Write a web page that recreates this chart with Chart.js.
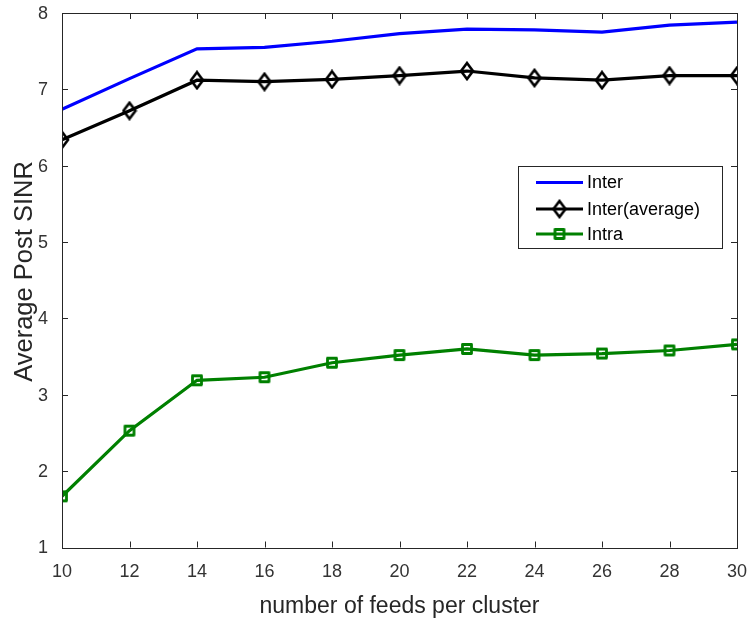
<!DOCTYPE html>
<html>
<head>
<meta charset="utf-8">
<script src="https://cdn.jsdelivr.net/npm/chart.js@4/dist/chart.umd.min.js"></script>
<style>
html,body{margin:0;padding:0;background:#fff;}
#wrap{width:754px;height:618px;position:relative;}
</style>
</head>
<body>
<div id="wrap"><canvas id="c" width="754" height="618"></canvas></div>
<script>
const feeds = [10, 12, 14, 16, 18, 20, 22, 24, 26, 28, 30];
const interValues = [6.74, 7.14, 7.53, 7.55, 7.63, 7.73, 7.79, 7.78, 7.75, 7.84, 7.88];
const interAvgValues = [6.34, 6.72, 7.12, 7.10, 7.13, 7.18, 7.24, 7.15, 7.12, 7.18, 7.18];
const intraValues = [1.67, 2.53, 3.19, 3.23, 3.42, 3.52, 3.60, 3.52, 3.54, 3.58, 3.66];
const xTicks = [10, 12, 14, 16, 18, 20, 22, 24, 26, 28, 30];
const yTicks = [1, 2, 3, 4, 5, 6, 7, 8];
const seriesNames = ['Inter', 'Inter(average)', 'Intra'];
const xTitle = 'number of feeds per cluster';
const yTitle = 'Average Post SINR';

const AXIS = '#262626';
const TICKCOL = '#333333';
const FONT = "'Liberation Sans', Arial, sans-serif";

function diamondCanvas(color) {
  const cv = document.createElement('canvas');
  cv.width = 16; cv.height = 20;
  const g = cv.getContext('2d');
  g.strokeStyle = color; g.lineWidth = 2.6;
  g.beginPath();
  g.moveTo(8, 2); g.lineTo(14, 10); g.lineTo(8, 18); g.lineTo(2, 10); g.closePath();
  g.stroke();
  return cv;
}
function squareCanvas(color) {
  const cv = document.createElement('canvas');
  cv.width = 14; cv.height = 14;
  const g = cv.getContext('2d');
  g.strokeStyle = color; g.lineWidth = 2.8; g.lineJoin = 'round';
  g.strokeRect(2.5, 2.5, 9, 9);
  return cv;
}
const diamond = diamondCanvas('#000000');
const square = squareCanvas('#008000');

function pts(vals) { return feeds.map((x, i) => ({x: x, y: vals[i]})); }

const frame = {
  id: 'frame',
  afterDatasetsDraw(chart) {
    const ctx = chart.ctx, a = chart.chartArea;
    const xs = chart.scales.x, ys = chart.scales.y;
    ctx.save();
    ctx.strokeStyle = AXIS; ctx.lineWidth = 1;
    ctx.strokeRect(Math.round(a.left) + 0.5, Math.round(a.top) + 0.5, Math.round(a.right - a.left), Math.round(a.bottom - a.top));
    ctx.beginPath();
    const L = 6;
    xTicks.forEach(v => {
      const px = Math.round(xs.getPixelForValue(v)) + 0.5;
      ctx.moveTo(px, a.bottom); ctx.lineTo(px, a.bottom - L);
      ctx.moveTo(px, a.top); ctx.lineTo(px, a.top + L);
    });
    yTicks.forEach(v => {
      const py = Math.round(ys.getPixelForValue(v)) + 0.5;
      ctx.moveTo(a.left, py); ctx.lineTo(a.left + L, py);
      ctx.moveTo(a.right, py); ctx.lineTo(a.right - L, py);
    });
    ctx.stroke();

    // axis titles
    ctx.fillStyle = AXIS;
    ctx.textAlign = 'center';
    ctx.textBaseline = 'alphabetic';
    ctx.font = '23px ' + FONT;
    ctx.fillText(xTitle, (a.left + a.right) / 2, 613);
    ctx.save();
    ctx.translate(32, 271.5);
    ctx.rotate(-Math.PI / 2);
    ctx.font = '25.5px ' + FONT;
    ctx.fillText(yTitle, 0, 0);
    ctx.restore();

    // legend
    const bx = 518.5, by = 166.5, bw = 204, bh = 82;
    ctx.fillStyle = '#fff';
    ctx.fillRect(bx, by, bw, bh);
    ctx.strokeStyle = AXIS; ctx.lineWidth = 1;
    ctx.strokeRect(bx, by, bw, bh);
    const rows = [182.5, 209, 234];
    chart.data.datasets.forEach((ds, i) => {
      const y = rows[i];
      ctx.strokeStyle = ds.borderColor; ctx.lineWidth = 3.2;
      ctx.beginPath(); ctx.moveTo(536, y); ctx.lineTo(583, y); ctx.stroke();
      if (ds.pointStyle && typeof ds.pointStyle === 'object') {
        const img = ds.pointStyle;
        ctx.drawImage(img, 559.5 - img.width / 2, y - img.height / 2);
      }
      ctx.fillStyle = '#000';
      ctx.font = '18px ' + FONT;
      ctx.textBaseline = 'middle'; ctx.textAlign = 'left';
      ctx.fillText(ds.label, 587, y + 1);
    });
    ctx.restore();
  }
};

new Chart(document.getElementById('c'), {
  type: 'line',
  data: {
    datasets: [
      { label: seriesNames[0], data: pts(interValues), borderColor: '#0000ff', borderWidth: 3.2, pointRadius: 0, pointHoverRadius: 0, tension: 0 },
      { label: seriesNames[1], data: pts(interAvgValues), borderColor: '#000000', borderWidth: 3.2, pointStyle: diamond, pointRadius: 8, tension: 0 },
      { label: seriesNames[2], data: pts(intraValues), borderColor: '#008000', borderWidth: 3.2, pointStyle: square, pointRadius: 7, tension: 0 }
    ]
  },
  options: {
    responsive: false,
    animation: false,
    events: [],
    layout: { padding: { top: 13, right: 17, left: 0, bottom: 0 } },
    plugins: { legend: { display: false }, tooltip: { enabled: false } },
    scales: {
      x: {
        type: 'linear', min: 10, max: 30,
        afterBuildTicks: s => { s.ticks = xTicks.map(v => ({value: v})); },
        afterFit: s => { s.height = 70.5; s.paddingLeft = 0; s.paddingRight = 0; },
        grid: { display: false, drawTicks: false },
        border: { display: false },
        ticks: { color: TICKCOL, font: { family: FONT, size: 18 }, padding: 14, maxRotation: 0, autoSkip: false },
        title: { display: false }
      },
      y: {
        type: 'linear', min: 1, max: 8,
        afterBuildTicks: s => { s.ticks = yTicks.map(v => ({value: v})); },
        afterFit: s => { s.width = 62; s.paddingTop = 0; s.paddingBottom = 0; },
        grid: { display: false, drawTicks: false },
        border: { display: false },
        ticks: { color: TICKCOL, font: { family: FONT, size: 18 }, padding: 14, labelOffset: 1 },
        title: { display: false }
      }
    }
  },
  plugins: [frame]
});
</script>
</body>
</html>
